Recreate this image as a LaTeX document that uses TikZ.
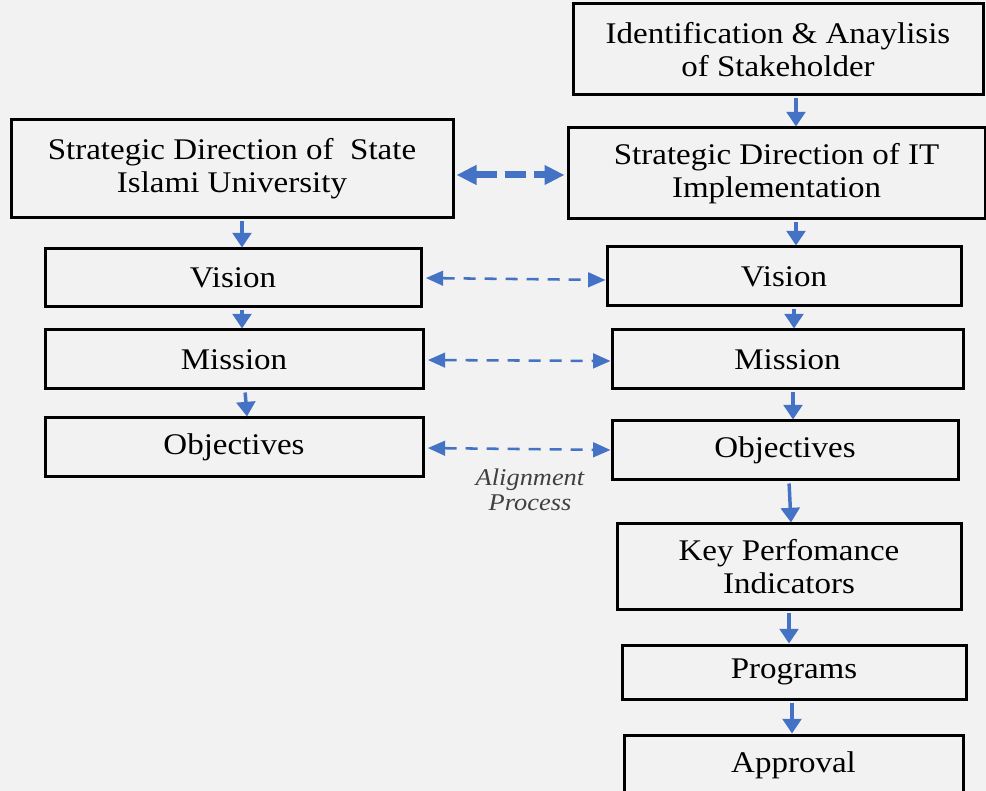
\documentclass[tikz,border=0pt]{standalone}
\usepackage{fontspec}
\setmainfont{Liberation Serif}[FakeStretch=1.1]
\usetikzlibrary{arrows.meta}
\definecolor{bg}{HTML}{F2F2F2}
\definecolor{arrblue}{HTML}{4472C4}
\definecolor{notegray}{HTML}{404040}
\begin{document}
\begin{tikzpicture}[x=0.75pt,y=-0.75pt,
  box/.style={draw=black, line width=2.25pt, align=center, inner sep=0pt,
    font=\fontsize{22.5}{24.75}\selectfont},
  solidarrow/.style={draw=arrblue, line width=2.6pt,
    -{Triangle[length=11pt,width=14pt]}, shorten <=1.5pt},
  dasharrow/.style={draw=arrblue, line width=1.9pt, dash pattern=on 9pt off 6.75pt,
    {Triangle[length=13pt,width=11pt]}-{Triangle[length=13pt,width=11pt]},
    shorten <=2.5pt},
  bigdasharrow/.style={draw=arrblue, line width=5.25pt, dash pattern=on 16pt off 6pt,
    {Triangle[length=15pt,width=14pt]}-{Triangle[length=15pt,width=14pt]},
    shorten <=1.5pt, shorten >=1.5pt},
  note/.style={text=notegray, align=center, inner sep=0pt,
    font=\fontsize{18}{18.75}\selectfont\itshape}
]
\fill[bg] (0,0) rectangle (986,791);
\useasboundingbox (0,0) rectangle (986,791);
\clip (0,0) rectangle (986,791);

% left column
\node[box, minimum width={442*0.75pt}, minimum height={98*0.75pt}] (sdsiu) at (232,169)
  {Strategic Direction of\ \ State\\Islami University};
\node[box, minimum width={376*0.75pt}, minimum height={58*0.75pt}] (visL) at (233,278) {Vision};
\node[box, minimum width={378*0.75pt}, minimum height={59*0.75pt}] (misL) at (234,359.5) {Mission};
\node[box, minimum width={378*0.75pt}, minimum height={59*0.75pt}] (objL) at (234,447.5) {Objectives};

% right column
\node[box, minimum width={410*0.75pt}, minimum height={91*0.75pt}] (ident) at (778,49.5)
  {Identification \& Anaylisis\\of Stakeholder};
\node[box, minimum width={417*0.75pt}, minimum height={91*0.75pt}] (sdit) at (776.5,173.5)
  {Strategic Direction of IT\\Implementation};
\node[box, minimum width={354*0.75pt}, minimum height={59*0.75pt}] (visR) at (784,276.5) {Vision};
\node[box, minimum width={351*0.75pt}, minimum height={59*0.75pt}] (misR) at (787.5,359.5) {Mission};
\node[box, minimum width={346*0.75pt}, minimum height={59*0.75pt}] (objR) at (785,450.5) {Objectives};
\node[box, minimum width={344*0.75pt}, minimum height={85*0.75pt}] (kpi) at (789,566.5)
  {Key Perfomance\\Indicators};
\node[box, minimum width={344*0.75pt}, minimum height={54*0.75pt}] (prog) at (794,672) {Programs};
\node[box, minimum width={339*0.75pt}, minimum height={60*0.75pt}] (appr) at (793.5,765) {Approval};

\node[note] (alignnote) at (530,490) {Alignment\\Process};

% vertical flow arrows
\draw[solidarrow] (ident.south -| 796,0) -- (sdit.north -| 796,0);
\draw[solidarrow] (sdit.south -| 796,0) -- (visR.north -| 796,0);
\draw[solidarrow] (visR.south -| 794,0) -- (misR.north -| 794,0);
\draw[solidarrow] (misR.south -| 793,0) -- (objR.north -| 793,0);
\draw[solidarrow] (objR.south -| 789,0) -- (kpi.north -| 791,0);
\draw[solidarrow] (kpi.south -| 789,0) -- (prog.north -| 789,0);
\draw[solidarrow] (prog.south -| 792,0) -- (appr.north -| 792,0);

\draw[solidarrow] (sdsiu.south -| 242,0) -- (visL.north -| 242,0);
\draw[solidarrow] (visL.south -| 242,0) -- (misL.north -| 242,0);
\draw[solidarrow] (misL.south -| 245,0) -- (objL.north -| 247,0);

% alignment arrows
\draw[bigdasharrow] (sdsiu.east |- 0,175) -- (sdit.west |- 0,175);
\draw[dasharrow] (visL.east |- 0,278) -- (visR.west |- 0,280);
\draw[dasharrow] (misL.east |- 0,360) -- (misR.west |- 0,361);
\draw[dasharrow] (objL.east |- 0,448) -- (objR.west |- 0,450);
\end{tikzpicture}
\end{document}
